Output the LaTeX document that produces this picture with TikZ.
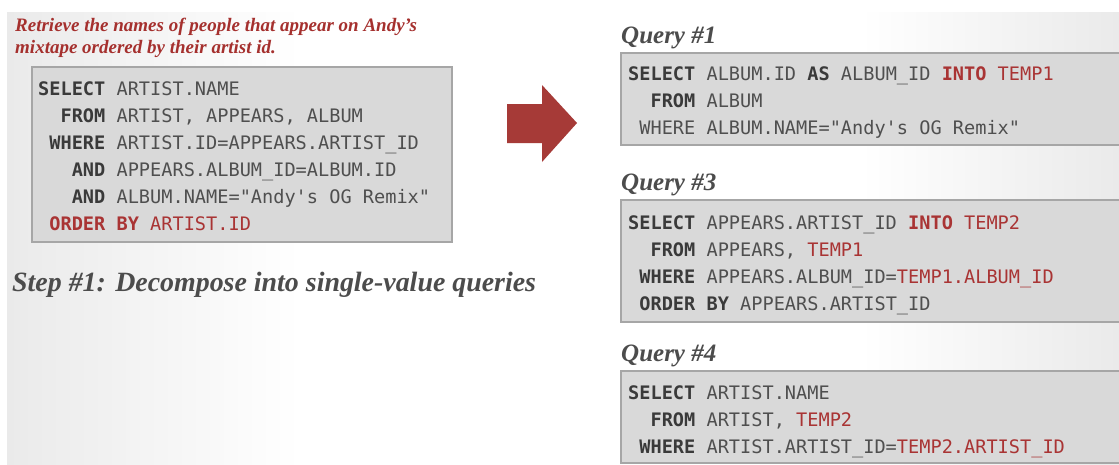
\documentclass[tikz,border=0pt]{standalone}
\usepackage{fontspec}
\usepackage{xcolor}
\usepackage{tikz}
\usetikzlibrary{calc}
\setmainfont{Liberation Serif}
\setmonofont{DejaVu Sans Mono}
\definecolor{panelgray}{HTML}{EAEAEA}
\definecolor{boxfill}{HTML}{D9D9D9}
\definecolor{boxline}{HTML}{A6A6A6}
\definecolor{sqlplain}{HTML}{4F4F4F}
\definecolor{sqldark}{HTML}{3A3A3A}
\definecolor{sqlred}{HTML}{A93434}
\definecolor{askred}{HTML}{A5302E}
\definecolor{arrowred}{HTML}{A63A37}
\definecolor{headgray}{HTML}{4C4C4C}
\newcommand{\sqlkw}[1]{{\bfseries\color{sqldark}#1}}
\newcommand{\sqlhot}[1]{{\bfseries\color{sqlred}#1}}
\newcommand{\sqltmp}[1]{{\color{sqlred}#1}}
\tikzset{
  sqlbox/.style={draw=boxline,line width=2pt,fill=boxfill,inner sep=0pt,anchor=north west},
  % multi-line texts hang from the baseline of their last line
  sqltext/.style={font=\ttfamily\fontsize{18.6}{27}\selectfont,text=sqlplain,
                  align=left,anchor=base west,inner sep=0pt},
  asktext/.style={font=\bfseries\itshape\fontsize{19}{22}\selectfont,text=askred,
                  align=left,anchor=base west,inner sep=0pt},
  steptext/.style={font=\bfseries\itshape\fontsize{27.9}{32}\selectfont,text=headgray,
                   anchor=base west,inner sep=0pt},
  qlabel/.style={font=\bfseries\itshape\fontsize{25}{28}\selectfont,text=headgray,
                 anchor=base west,inner sep=0pt}
}
\begin{document}
\begin{tikzpicture}[x=1pt,y=-1pt]
    \useasboundingbox (0,0) rectangle (1119,464);
    \clip (0,0) rectangle (1119,464);
    \fill[white] (0,0) rectangle (1119,464);
    % grey wash at both sides
    \shade[left color=panelgray,right color=white] (7,12) rectangle (300,464);
    \shade[left color=white,right color=panelgray] (860,12) rectangle (1119,464);

    % the original query
    \node[asktext] (ask) at (15,53) {Retrieve the names of people that appear on Andy's\\mixtape ordered by their artist id.};
    \node[sqlbox,minimum width=420pt,minimum height=175pt] (origbox) at (31,66) {};
    \node[sqltext] (origsql) at ($(origbox.north west)+(7,164)$) {%
      \sqlkw{SELECT} ARTIST.NAME\\
      \hphantom{xx}\sqlkw{FROM} ARTIST, APPEARS, ALBUM\\
      \hphantom{x}\sqlkw{WHERE} ARTIST.ID=APPEARS.ARTIST\_ID\\
      \hphantom{xxx}\sqlkw{AND} APPEARS.ALBUM\_ID=ALBUM.ID\\
      \hphantom{xxx}\sqlkw{AND} ALBUM.NAME="Andy's OG Remix"\\
      \hphantom{x}\sqlhot{ORDER BY} \sqltmp{ARTIST.ID}};
    \node[steptext] (step) at (12,291) {Step \#1: Decompose into single-value queries};

    % block arrow
    \fill[arrowred] (507,104) -- (542,104) -- (542,85) -- (577,123) -- (542,162) -- (542,143) -- (507,143) -- cycle;

    % decomposed queries
    \node[sqlbox,minimum width=510pt,minimum height=92pt] (q1box) at (620,52) {};
    \node[qlabel] (q1lbl) at ($(q1box.north west)+(1,-9)$) {Query \#1};
    \node[sqltext] (q1sql) at ($(q1box.north west)+(8,82)$) {%
      \sqlkw{SELECT} ALBUM.ID \sqlkw{AS} ALBUM\_ID \sqlhot{INTO} \sqltmp{TEMP1}\\
      \hphantom{xx}\sqlkw{FROM} ALBUM\\
      \hphantom{x}WHERE ALBUM.NAME="Andy's OG Remix"};

    \node[sqlbox,minimum width=510pt,minimum height=122pt] (q3box) at (620,199) {};
    \node[qlabel] (q3lbl) at ($(q3box.north west)+(1,-9)$) {Query \#3};
    \node[sqltext] (q3sql) at ($(q3box.north west)+(8,111)$) {%
      \sqlkw{SELECT} APPEARS.ARTIST\_ID \sqlhot{INTO} \sqltmp{TEMP2}\\
      \hphantom{xx}\sqlkw{FROM} APPEARS, \sqltmp{TEMP1}\\
      \hphantom{x}\sqlkw{WHERE} APPEARS.ALBUM\_ID=\sqltmp{TEMP1.ALBUM\_ID}\\
      \hphantom{x}\sqlkw{ORDER BY} APPEARS.ARTIST\_ID};

    \node[sqlbox,minimum width=510pt,minimum height=92pt] (q4box) at (620,370) {};
    \node[qlabel] (q4lbl) at ($(q4box.north west)+(1,-9)$) {Query \#4};
    \node[sqltext] (q4sql) at ($(q4box.north west)+(8,83)$) {%
      \sqlkw{SELECT} ARTIST.NAME\\
      \hphantom{xx}\sqlkw{FROM} ARTIST, \sqltmp{TEMP2}\\
      \hphantom{x}\sqlkw{WHERE} ARTIST.ARTIST\_ID=\sqltmp{TEMP2.ARTIST\_ID}};
\end{tikzpicture}
\end{document}
